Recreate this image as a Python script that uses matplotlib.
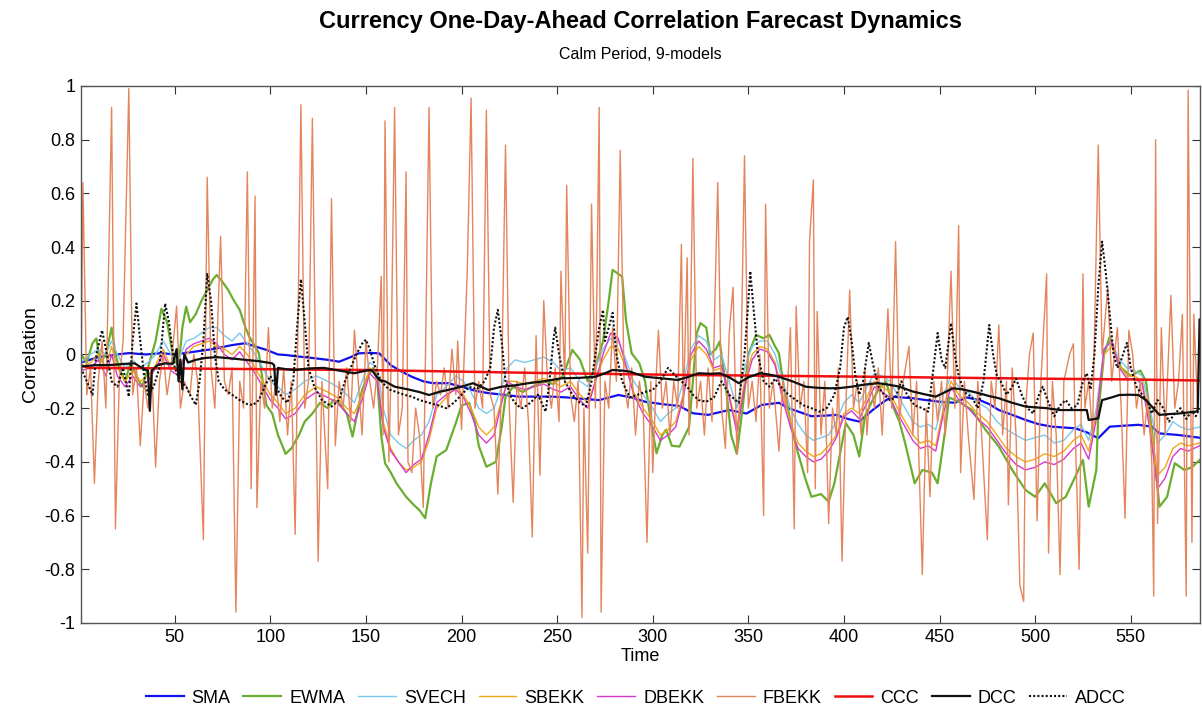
import matplotlib
matplotlib.use("Agg")
import matplotlib.pyplot as plt

plt.rcParams['font.family'] = ['Liberation Sans', 'DejaVu Sans']

# ---- data ----
sma_t = [1, 10, 20, 26, 35, 43, 50, 60, 70, 80, 87, 92, 98, 104, 108, 115, 122, 130, 136, 142, 146, 152, 157,
         163, 169, 174, 180, 185, 193, 200, 207, 214, 222, 230, 240, 247, 255, 263, 272, 282, 289, 296, 305, 314,
         321, 329, 335, 340, 349, 357, 366, 371, 377, 383, 390, 396, 402, 408, 415, 420, 425, 430, 436, 443, 450,
         458, 464, 471, 476, 481, 488, 495, 502, 509, 515, 521, 527, 533, 539, 547, 554, 561, 565, 575, 586]
sma_v = [-0.03, -0.01, 0.0, 0.005, 0.0, 0.005, 0.0, 0.01, 0.02, 0.035, 0.042, 0.03, 0.017, 0.0, -0.002, -0.008,
         -0.013, -0.02, -0.027, -0.01, 0.004, 0.006, 0.004, -0.04, -0.065, -0.083, -0.1, -0.107, -0.107, -0.12,
         -0.135, -0.144, -0.15, -0.157, -0.157, -0.157, -0.16, -0.165, -0.17, -0.151, -0.16, -0.176, -0.185, -0.192,
         -0.219, -0.225, -0.215, -0.207, -0.22, -0.188, -0.18, -0.2, -0.215, -0.23, -0.228, -0.225, -0.24, -0.25,
         -0.207, -0.18, -0.157, -0.16, -0.163, -0.17, -0.176, -0.18, -0.16, -0.17, -0.185, -0.207, -0.225, -0.244,
         -0.26, -0.269, -0.272, -0.275, -0.29, -0.312, -0.269, -0.265, -0.262, -0.269, -0.294, -0.30, -0.31]

ewma_t = [1, 4, 7, 9, 11, 14, 17, 19, 21, 24, 27, 30, 33, 36, 40, 43, 46, 49, 52, 54, 56, 58, 61, 64, 67, 70, 72,
          75, 78, 81, 84, 87, 89, 92, 94, 96, 98, 101, 104, 108, 111, 115, 118, 122, 126, 130, 133, 136, 140, 143,
          146, 148, 151, 154, 156, 158, 160, 163, 166, 171, 175, 178, 181, 184, 187, 192, 197, 200, 204, 207, 209,
          213, 218, 221, 223, 227, 232, 237, 243, 248, 253, 258, 262, 266, 270, 274, 277, 279, 282, 284, 286, 289,
          293, 296, 299, 302, 305, 307, 310, 314, 319, 321, 323, 325, 328, 330, 333, 335, 338, 341, 344, 347, 350,
          354, 358, 361, 364, 366, 368, 372, 375, 380, 383, 388, 392, 395, 397, 401, 405, 408, 411, 415, 418, 422,
          426, 429, 432, 435, 437, 441, 446, 449, 453, 455, 460, 467, 474, 481, 488, 495, 500, 505, 511, 516, 521,
          525, 528, 532, 533, 536, 539, 542, 545, 550, 555, 558, 561, 565, 569, 573, 578, 582, 586]
ewma_v = [0.0, -0.03, 0.042, 0.06, -0.03, 0.0, 0.1, 0.0, -0.05, -0.1, -0.03, -0.08, -0.12, -0.05, 0.05, 0.17,
          0.12, 0.0, -0.05, 0.1, 0.178, 0.12, 0.15, 0.2, 0.24, 0.28, 0.296, 0.27, 0.24, 0.2, 0.166, 0.1, 0.066,
          0.03, 0.005, -0.1, -0.19, -0.22, -0.3, -0.37, -0.35, -0.3, -0.25, -0.22, -0.18, -0.2, -0.17, -0.18, -0.22,
          -0.306, -0.2, -0.132, -0.08, -0.05, -0.1, -0.3, -0.405, -0.44, -0.48, -0.53, -0.56, -0.58, -0.61, -0.48,
          -0.38, -0.356, -0.256, -0.19, -0.18, -0.25, -0.34, -0.418, -0.4, -0.27, -0.157, -0.12, -0.14, -0.12, -0.1,
          -0.11, -0.08, 0.017, -0.02, -0.1, -0.05, 0.05, 0.2, 0.315, 0.3, 0.29, 0.128, 0.004, -0.033, -0.1, -0.25,
          -0.368, -0.3, -0.28, -0.34, -0.343, -0.27, -0.1, 0.08, 0.117, 0.1, 0.0, 0.02, 0.048, -0.1, -0.3, -0.37,
          -0.2, 0.0, 0.073, 0.06, 0.073, 0.03, 0.005, -0.095, -0.25, -0.343, -0.467, -0.53, -0.52, -0.548, -0.48,
          -0.405, -0.256, -0.3, -0.38, -0.23, -0.17, -0.132, -0.1, -0.2, -0.25, -0.33, -0.42, -0.48, -0.43, -0.44,
          -0.48, -0.28, -0.16, -0.176, -0.207, -0.28, -0.343, -0.43, -0.505, -0.53, -0.48, -0.554, -0.53, -0.455,
          -0.393, -0.567, -0.43, -0.22, 0.0, 0.066, 0.0, -0.05, -0.08, -0.06, -0.1, -0.28, -0.567, -0.53, -0.405,
          -0.43, -0.42, -0.393]

# SVECH, SBEKK and DBEKK share one set of knot times
garch_t = [1, 6, 10, 14, 17, 20, 24, 28, 32, 36, 40, 44, 48, 52, 56, 60, 64, 68, 72, 76, 80, 84, 88, 92, 96, 100,
           104, 108, 113, 118, 124, 130, 135, 140, 144, 148, 152, 156, 159, 163, 167, 171, 175, 179, 183, 187, 192,
           197, 201, 205, 209, 213, 217, 221, 224, 228, 233, 238, 243, 248, 252, 257, 262, 266, 270, 274, 278, 282,
           286, 290, 295, 300, 304, 308, 312, 316, 320, 324, 328, 332, 336, 340, 344, 348, 352, 356, 360, 364, 368,
           372, 376, 380, 384, 388, 392, 396, 400, 404, 408, 412, 416, 420, 424, 428, 432, 436, 440, 444, 448, 452,
           456, 460, 465, 470, 475, 480, 485, 490, 495, 500, 505, 510, 515, 520, 524, 528, 532, 536, 540, 544, 548,
           552, 556, 560, 564, 568, 572, 576, 580, 586]
svech_v = [-0.03, 0.0, 0.02, 0.0, 0.05, 0.0, -0.05, -0.02, -0.05, -0.03, 0.0, 0.05, 0.0, -0.02, 0.05, 0.06, 0.08,
           0.1, 0.1, 0.07, 0.05, 0.08, 0.04, 0.0, -0.05, -0.1, -0.12, -0.15, -0.13, -0.1, -0.08, -0.1, -0.12, -0.15,
           -0.18, -0.1, -0.03, -0.05, -0.2, -0.3, -0.33, -0.35, -0.32, -0.3, -0.25, -0.15, -0.12, -0.08, -0.1,
           -0.14, -0.2, -0.22, -0.2, -0.12, -0.05, -0.02, -0.03, -0.02, -0.01, -0.03, -0.06, -0.05, -0.1, -0.12,
           -0.05, 0.02, 0.06, 0.05, -0.02, -0.1, -0.15, -0.2, -0.25, -0.22, -0.2, -0.1, 0.02, 0.07, 0.05, -0.02,
           0.0, -0.1, -0.2, -0.05, 0.03, 0.05, 0.05, 0.0, -0.1, -0.2, -0.26, -0.3, -0.32, -0.31, -0.3, -0.25,
           -0.18, -0.15, -0.18, -0.12, -0.07, -0.08, -0.1, -0.15, -0.2, -0.25, -0.27, -0.26, -0.28, -0.15, -0.08,
           -0.12, -0.14, -0.18, -0.2, -0.25, -0.28, -0.3, -0.32, -0.31, -0.3, -0.33, -0.32, -0.28, -0.26, -0.32,
           -0.2, 0.02, 0.05, -0.02, -0.05, -0.06, -0.08, -0.2, -0.33, -0.3, -0.25, -0.27, -0.28, -0.27]
sbekk_v = [-0.05, -0.03, 0.0, -0.05, 0.03, -0.05, -0.1, -0.06, -0.1, -0.08, -0.04, 0.02, -0.05, -0.06, 0.0, 0.03,
           0.04, 0.05, 0.03, 0.02, 0.0, 0.03, 0.0, -0.05, -0.1, -0.15, -0.18, -0.22, -0.2, -0.15, -0.12, -0.14,
           -0.16, -0.2, -0.22, -0.15, -0.05, -0.08, -0.25, -0.35, -0.4, -0.43, -0.42, -0.4, -0.32, -0.2, -0.16,
           -0.12, -0.15, -0.2, -0.27, -0.3, -0.27, -0.17, -0.1, -0.1, -0.11, -0.1, -0.09, -0.1, -0.12, -0.1, -0.15,
           -0.18, -0.1, -0.02, 0.03, 0.02, -0.05, -0.14, -0.2, -0.25, -0.3, -0.28, -0.25, -0.15, -0.02, 0.03, 0.0,
           -0.06, -0.05, -0.15, -0.27, -0.1, 0.0, 0.03, 0.02, -0.03, -0.15, -0.25, -0.33, -0.36, -0.38, -0.37,
           -0.34, -0.3, -0.22, -0.2, -0.22, -0.16, -0.1, -0.12, -0.14, -0.2, -0.25, -0.3, -0.33, -0.32, -0.34, -0.2,
           -0.1, -0.15, -0.18, -0.22, -0.25, -0.3, -0.35, -0.38, -0.4, -0.39, -0.37, -0.38, -0.36, -0.32, -0.3,
           -0.36, -0.22, 0.0, 0.03, -0.04, -0.08, -0.08, -0.1, -0.25, -0.45, -0.42, -0.35, -0.33, -0.34, -0.33]
dbekk_v = [-0.06, -0.05, -0.02, -0.08, 0.0, -0.08, -0.12, -0.08, -0.12, -0.1, -0.05, 0.0, -0.06, -0.08, 0.02,
           0.04, 0.05, 0.06, 0.04, 0.0, -0.02, 0.01, -0.03, -0.07, -0.12, -0.17, -0.2, -0.24, -0.22, -0.17, -0.14,
           -0.16, -0.18, -0.22, -0.25, -0.17, -0.07, -0.1, -0.27, -0.36, -0.4, -0.44, -0.41, -0.39, -0.3, -0.18,
           -0.15, -0.13, -0.16, -0.22, -0.3, -0.33, -0.3, -0.18, -0.1, -0.12, -0.13, -0.12, -0.11, -0.13, -0.14,
           -0.12, -0.17, -0.2, -0.1, 0.0, 0.08, 0.06, -0.04, -0.15, -0.22, -0.27, -0.32, -0.3, -0.27, -0.16, 0.0,
           0.05, 0.02, -0.05, -0.04, -0.16, -0.29, -0.12, -0.02, 0.02, 0.01, -0.04, -0.17, -0.27, -0.35, -0.38,
           -0.4, -0.39, -0.36, -0.31, -0.23, -0.21, -0.24, -0.18, -0.12, -0.14, -0.16, -0.22, -0.27, -0.32, -0.35,
           -0.34, -0.36, -0.22, -0.12, -0.17, -0.2, -0.24, -0.27, -0.32, -0.37, -0.41, -0.43, -0.42, -0.4, -0.41,
           -0.39, -0.35, -0.33, -0.39, -0.24, 0.02, 0.05, -0.05, -0.09, -0.09, -0.11, -0.28, -0.5, -0.46, -0.38,
           -0.35, -0.36, -0.34]

fbekk_t = [1, 2, 4, 6, 8, 10, 12, 14, 17, 19, 21, 23, 26, 28, 30, 32, 34, 36, 38, 40, 42, 44, 46, 48, 51, 53, 55,
           58, 60, 62, 65, 67, 69, 71, 74, 76, 78, 80, 82, 84, 86, 88, 90, 92, 93, 95, 97, 99, 101, 103, 105, 107,
           109, 111, 113, 116, 118, 120, 122, 125, 127, 130, 132, 134, 136, 138, 140, 142, 144, 146, 148, 150, 152,
           154, 156, 158, 159, 160, 162, 163, 165, 167, 169, 171, 172, 174, 176, 178, 180, 183, 185, 187, 189, 191,
           193, 195, 197, 198, 200, 203, 205, 207, 209, 211, 213, 215, 217, 219, 221, 223, 225, 227, 229, 231, 233,
           235, 237, 239, 241, 243, 245, 247, 249, 251, 252, 254, 255, 257, 259, 261, 263, 264, 266, 267, 268, 270,
           272, 273, 275, 277, 279, 281, 283, 285, 287, 289, 291, 293, 295, 297, 299, 300, 302, 303, 305, 307, 309,
           311, 313, 315, 316, 318, 319, 321, 323, 325, 327, 329, 331, 334, 336, 338, 340, 342, 344, 346, 348, 350,
           352, 354, 356, 358, 359, 361, 363, 366, 368, 370, 372, 374, 375, 377, 379, 381, 382, 384, 385, 386, 388,
           390, 392, 394, 396, 397, 399, 401, 403, 405, 407, 409, 411, 412, 414, 416, 418, 420, 423, 425, 427, 429,
           431, 434, 436, 438, 441, 443, 445, 447, 449, 451, 453, 456, 458, 460, 461, 463, 465, 468, 470, 472, 475,
           477, 479, 481, 483, 485, 486, 488, 490, 492, 494, 495, 497, 499, 501, 503, 506, 507, 509, 511, 513, 515,
           518, 520, 521, 523, 525, 526, 528, 530, 533, 535, 538, 540, 543, 545, 547, 549, 551, 553, 555, 557, 559,
           561, 562, 563, 564, 566, 568, 571, 573, 575, 577, 579, 580, 582, 583, 585, 586]
fbekk_v = [-0.1, 0.64, -0.15, -0.05, -0.48, -0.1, 0.05, -0.2, 0.92, -0.65, -0.1, 0.05, 0.99, -0.15, -0.05, -0.34,
           -0.1, -0.2, -0.05, -0.42, -0.1, 0.0, -0.15, -0.05, 0.18, -0.2, -0.1, -0.15, 0.0, -0.1, -0.69, 0.66,
           -0.05, -0.2, 0.44, -0.1, -0.15, -0.05, -0.96, -0.1, -0.2, 0.68, -0.5, 0.59, -0.57, -0.1, -0.2, 0.1,
           -0.2, -0.1, -0.25, -0.05, -0.3, -0.1, -0.67, 0.93, -0.2, -0.1, 0.88, -0.77, -0.1, -0.5, 0.58, -0.34,
           -0.1, -0.2, -0.05, -0.25, 0.09, -0.1, -0.3, 0.05, -0.1, -0.2, -0.05, 0.29, -0.3, 0.87, -0.4, -0.1, 0.92,
           -0.3, -0.2, 0.68, -0.4, -0.44, -0.2, -0.3, -0.57, 0.92, -0.2, -0.1, -0.15, -0.05, -0.2, 0.02, -0.15,
           0.05, -0.28, 0.31, 0.955, -0.2, -0.1, -0.2, 0.91, -0.15, -0.2, -0.52, -0.1, 0.78, -0.2, -0.55, -0.1,
           -0.2, -0.05, -0.25, -0.68, 0.07, -0.45, 0.2, -0.1, -0.2, -0.05, -0.25, 0.31, -0.1, 0.63, -0.15, -0.25,
           -0.1, -0.98, -0.2, -0.74, -0.1, 0.56, -0.2, 0.92, -0.96, -0.1, -0.2, 0.1, -0.1, 0.76, -0.1, -0.2, -0.05,
           -0.3, -0.1, -0.2, -0.7, -0.1, -0.44, -0.05, 0.09, -0.2, -0.1, -0.3, -0.1, -0.2, 0.41, -0.2, 0.36, -0.3,
           0.73, -0.2, -0.1, -0.3, -0.05, -0.25, 0.64, -0.2, -0.35, 0.08, 0.25, -0.37, -0.1, 0.74, -0.2, -0.1,
           -0.25, 0.0, -0.6, 0.56, -0.2, -0.1, -0.36, -0.1, -0.2, 0.1, -0.65, 0.18, -0.2, -0.1, -0.44, 0.42, 0.65,
           -0.5, 0.16, -0.3, -0.1, -0.63, -0.2, -0.3, -0.05, -0.77, -0.2, 0.24, -0.2, -0.1, -0.3, -0.05, -0.3,
           -0.1, -0.2, -0.05, -0.3, 0.17, -0.2, 0.42, -0.25, -0.1, 0.03, -0.3, -0.1, -0.82, -0.2, -0.53, -0.1,
           -0.25, -0.1, -0.3, 0.31, -0.2, 0.48, -0.44, -0.1, -0.3, -0.54, -0.1, -0.3, -0.69, -0.1, -0.2, 0.11,
           -0.3, -0.1, -0.56, -0.05, -0.3, -0.86, -0.92, -0.2, 0.0, 0.08, -0.62, -0.1, 0.3, -0.74, -0.1, -0.3,
           -0.82, -0.1, 0.0, 0.04, -0.3, -0.8, 0.3, -0.2, -0.1, -0.3, 0.78, 0.0, 0.25, -0.1, 0.1, -0.2, -0.61, 0.09,
           0.0, -0.2, -0.1, -0.3, -0.15, -0.4, -0.9, 0.8, -0.63, 0.1, -0.3, 0.22, -0.2, -0.1, 0.15, -0.9, 0.985,
           -0.7, 0.15, -0.2, 0.0]

ccc_t = [1, 5, 50, 100, 150, 200, 250, 313, 400, 450, 500, 550, 586]
ccc_v = [-0.04, -0.05, -0.052, -0.055, -0.058, -0.064, -0.07, -0.076, -0.082, -0.086, -0.09, -0.093, -0.097]

dcc_t = [1, 8, 17, 24, 29, 34, 36, 37, 38, 41, 45, 49, 51, 52, 53, 54, 55, 57, 61, 66, 72, 80, 87, 94, 101, 102,
         103, 104, 108, 113, 120, 128, 136, 144, 150, 153, 157, 160, 165, 172, 178, 183, 188, 193, 200, 206, 210,
         214, 221, 228, 235, 243, 252, 262, 270, 275, 279, 284, 288, 296, 305, 313, 318, 324, 330, 335, 340, 345,
         350, 356, 361, 366, 373, 380, 386, 392, 398, 404, 411, 418, 423, 429, 436, 442, 448, 453, 457, 462, 467,
         471, 476, 481, 488, 495, 500, 506, 513, 520, 527, 528, 533, 535, 540, 544, 549, 554, 558, 561, 565, 570,
         575, 580, 584, 585, 586]
dcc_v = [-0.045, -0.04, -0.039, -0.035, -0.033, -0.055, -0.06, -0.21, -0.06, -0.04, -0.033, -0.035, 0.02, -0.1,
         -0.02, -0.13, 0.0, -0.03, -0.02, -0.013, -0.01, -0.015, -0.02, -0.025, -0.033, -0.04, -0.15, -0.05,
         -0.055, -0.058, -0.052, -0.05, -0.06, -0.07, -0.06, -0.058, -0.095, -0.1, -0.12, -0.13, -0.14, -0.151,
         -0.14, -0.132, -0.12, -0.107, -0.12, -0.132, -0.12, -0.115, -0.107, -0.1, -0.089, -0.087, -0.083, -0.07,
         -0.058, -0.06, -0.064, -0.083, -0.089, -0.095, -0.085, -0.07, -0.072, -0.07, -0.085, -0.107, -0.085,
         -0.07, -0.075, -0.083, -0.1, -0.12, -0.124, -0.126, -0.125, -0.12, -0.112, -0.107, -0.112, -0.12, -0.138,
         -0.148, -0.157, -0.14, -0.126, -0.13, -0.138, -0.145, -0.155, -0.163, -0.18, -0.194, -0.197, -0.2,
         -0.207, -0.207, -0.207, -0.244, -0.238, -0.17, -0.16, -0.151, -0.15, -0.151, -0.17, -0.194, -0.225,
         -0.222, -0.22, -0.216, -0.213, -0.21, 0.13]

adcc_t = [1, 4, 7, 9, 12, 14, 17, 20, 23, 26, 28, 30, 32, 34, 36, 39, 42, 45, 47, 50, 53, 56, 58, 61, 63, 65, 67,
          69, 71, 73, 76, 80, 84, 88, 91, 94, 97, 100, 103, 106, 109, 112, 114, 116, 118, 120, 123, 127, 132, 136,
          139, 142, 145, 148, 150, 152, 155, 158, 162, 166, 170, 174, 178, 183, 188, 192, 196, 200, 204, 208, 212,
          215, 217, 219, 221, 223, 226, 229, 232, 236, 240, 244, 246, 248, 249, 251, 254, 258, 262, 265, 268, 270,
          272, 274, 275, 277, 279, 281, 284, 288, 292, 296, 300, 304, 308, 312, 315, 318, 321, 324, 328, 332, 336,
          340, 345, 348, 350, 351, 353, 355, 358, 361, 364, 367, 371, 375, 379, 383, 387, 391, 395, 398, 400, 402,
          404, 406, 408, 410, 413, 415, 418, 421, 424, 427, 430, 433, 437, 441, 444, 446, 449, 451, 453, 456, 458,
          460, 463, 467, 470, 473, 476, 478, 480, 482, 485, 488, 490, 493, 496, 499, 502, 504, 507, 510, 513, 516,
          519, 522, 525, 527, 529, 531, 533, 535, 537, 539, 541, 543, 545, 548, 550, 553, 556, 559, 561, 564, 567,
          570, 573, 576, 579, 582, 584, 586]
adcc_v = [-0.05, -0.1, -0.15, 0.0, 0.09, 0.02, -0.1, -0.12, -0.05, -0.157, 0.05, 0.19, 0.05, -0.08, -0.15, -0.12,
          -0.05, 0.19, 0.12, -0.05, -0.1, -0.12, -0.15, -0.188, -0.1, 0.05, 0.3, 0.2, 0.0, -0.1, -0.13, -0.15,
          -0.17, -0.185, -0.188, -0.17, -0.12, -0.08, -0.12, -0.16, -0.18, -0.1, 0.1, 0.28, 0.12, -0.05, -0.12,
          -0.17, -0.194, -0.17, -0.1, -0.05, 0.0, 0.04, 0.055, 0.02, -0.05, -0.1, -0.13, -0.14, -0.15, -0.157,
          -0.17, -0.18, -0.19, -0.2, -0.18, -0.15, -0.12, -0.13, -0.1, -0.05, 0.1, 0.166, 0.05, -0.1, -0.16, -0.19,
          -0.2, -0.18, -0.15, -0.213, -0.1, 0.05, 0.1, 0.0, -0.1, -0.15, -0.18, -0.194, -0.1, 0.0, 0.1, 0.166,
          0.05, 0.1, 0.155, 0.0, -0.1, -0.16, -0.15, -0.14, -0.132, -0.1, -0.05, -0.08, -0.1, -0.12, -0.15, -0.17,
          -0.176, -0.16, -0.1, -0.15, -0.18, 0.0, 0.2, 0.31, 0.15, 0.0, -0.1, -0.12, -0.09, -0.12, -0.15, -0.17,
          -0.19, -0.2, -0.213, -0.2, -0.15, -0.05, 0.1, 0.14, 0.05, -0.08, -0.15, -0.1, 0.043, -0.03, -0.12, -0.15,
          -0.17, -0.16, -0.1, -0.15, -0.19, -0.2, -0.213, -0.1, 0.08, -0.02, -0.05, 0.117, 0.0, -0.08, -0.14,
          -0.16, -0.2, -0.1, 0.11, 0.0, -0.08, -0.1, -0.15, -0.12, -0.09, -0.15, -0.2, -0.22, -0.15, -0.12, -0.18,
          -0.23, -0.19, -0.17, -0.2, -0.19, -0.1, -0.07, -0.13, 0.0, 0.25, 0.42, 0.3, 0.15, 0.0, -0.05, -0.02,
          0.043, -0.05, -0.12, -0.15, -0.18, -0.22, -0.17, -0.2, -0.25, -0.22, -0.2, -0.24, -0.21, -0.23, -0.2]

model_names = ['SMA', 'EWMA', 'SVECH', 'SBEKK', 'DBEKK', 'FBEKK', 'CCC', 'DCC', 'ADCC']
x_ticks = [50, 100, 150, 200, 250, 300, 350, 400, 450, 500, 550]
y_ticks = [-1, -0.8, -0.6, -0.4, -0.2, 0, 0.2, 0.4, 0.6, 0.8, 1]
y_tick_labels = ['-1', '-0.8', '-0.6', '-0.4', '-0.2', '0', '0.2', '0.4', '0.6', '0.8', '1']

# ---- plot ----
fig = plt.figure(figsize=(12.02, 7.14), dpi=100)
ax = fig.add_axes([0.0674, 0.1275, 0.9306, 0.7521])

series = [
    (sma_t, sma_v, dict(color='#1010F0', lw=1.6)),
    (ewma_t, ewma_v, dict(color='#6AAE2E', lw=1.6)),
    (garch_t, svech_v, dict(color='#78C8F0', lw=1.0)),
    (garch_t, sbekk_v, dict(color='#F0A818', lw=1.0)),
    (garch_t, dbekk_v, dict(color='#D838D0', lw=1.0)),
    (fbekk_t, fbekk_v, dict(color='#E4855C', lw=1.0)),
    (ccc_t, ccc_v, dict(color='#F01010', lw=1.8)),
    (dcc_t, dcc_v, dict(color='#101010', lw=1.6)),
    (adcc_t, adcc_v, dict(color='#101010', lw=1.5, ls=(0, (1, 1)))),
]
for (t, v, style), name in zip(series, model_names):
    ax.plot(t, v, label=name, **style)

ax.set_xlim(1, 586)
ax.set_ylim(-1, 1)
ax.set_xticks(x_ticks)
ax.set_yticks(y_ticks)
ax.set_yticklabels(y_tick_labels)
ax.tick_params(direction='in', length=6, width=0.8, top=True, right=True, labelsize=13, colors='#333333',
               labelcolor='black', pad=4)
for s in ax.spines.values():
    s.set_color('#555555')
    s.set_linewidth(1.0)

ax.set_xlabel('Time', fontsize=13, labelpad=2)
ax.set_ylabel('Correlation', fontsize=14, labelpad=4)

fig.text(0.533, 0.970, 'Currency One-Day-Ahead Correlation Farecast Dynamics', ha='center', va='center',
         fontsize=17, fontweight='bold')
fig.text(0.533, 0.924, 'Calm Period, 9-models', ha='center', va='center', fontsize=11.5)

fig.legend(loc='center', bbox_to_anchor=(0.529, 0.022), ncol=9, frameon=False, fontsize=13,
           handlelength=2.1, columnspacing=0.7, handletextpad=0.45)

fig.savefig('out.png', dpi=100)
